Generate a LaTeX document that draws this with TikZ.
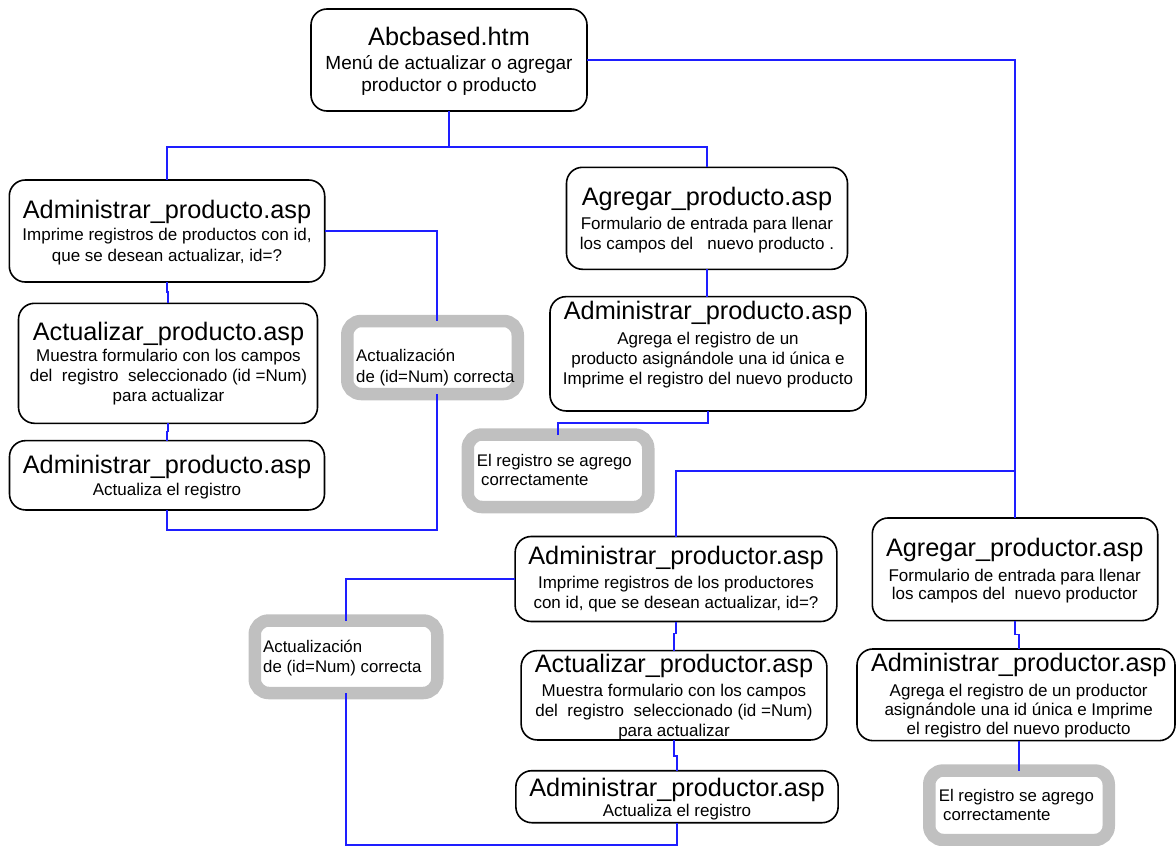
\documentclass[tikz,border=0pt]{standalone}
\usepackage{fontspec}
\setmainfont{Liberation Sans}
\definecolor{linkblue}{RGB}{30,30,255}
\definecolor{okgray}{RGB}{192,192,192}
\begin{document}
\begin{tikzpicture}[x=1pt,y=-1pt,
  box/.style={draw=black, line width=1.6pt, rounded corners=16pt, fill=white, inner sep=0pt, outer sep=0pt},
  okbox/.style={draw=okgray, line width=12.5pt, rounded corners=14pt, fill=white, inner sep=0pt, outer sep=0pt},
  link/.style={draw=linkblue, line width=1.5pt},
  ttl/.style={anchor=base, inner sep=0pt, font=\fontsize{25.3}{30}\selectfont},
  sub/.style={anchor=base, inner sep=0pt, font=\fontsize{17}{20}\selectfont},
  menu/.style={anchor=base, inner sep=0pt, font=\fontsize{19}{23}\selectfont},
  note/.style={anchor=base west, inner sep=0pt, font=\fontsize{16.8}{20}\selectfont},
]
\useasboundingbox (0,0) rectangle (1176,846);

% page boxes
\node[box, minimum width=276pt,   minimum height=102pt]   (A) at (449,60) {};
\node[box, minimum width=315.4pt, minimum height=102pt]   (B) at (167,231) {};
\node[box, minimum width=281pt,   minimum height=102pt]   (C) at (707,218.3) {};
\node[box, minimum width=299pt,   minimum height=120pt]   (E) at (168,363.3) {};
\node[box, minimum width=315pt,   minimum height=69.3pt]  (F) at (167,475.3) {};
\node[box, minimum width=316pt,   minimum height=114.3pt] (G) at (708,353.8) {};
\node[box, minimum width=321.7pt, minimum height=85pt]    (I) at (676,579) {};
\node[box, minimum width=285.4pt, minimum height=102.7pt] (J) at (1015,569.3) {};
\node[box, minimum width=305.7pt, minimum height=89.3pt]  (L) at (674,695.3) {};
\node[box, minimum width=322.3pt, minimum height=52pt]    (M) at (677,796.7) {};
\node[box, minimum width=318pt,   minimum height=91.7pt]  (N) at (1016,694.8) {};

% result boxes
\node[okbox, minimum width=170.5pt, minimum height=73pt]   (D) at (432.5,357.5) {};
\node[okbox, minimum width=180.5pt, minimum height=72.5pt] (H) at (558,470.75) {};
\node[okbox, minimum width=182.5pt, minimum height=72.5pt] (K) at (346,656.75) {};
\node[okbox, minimum width=179.5pt, minimum height=69.5pt] (O) at (1019,805.25) {};

% texts
\node[ttl]  (A1) at (449,45)   {Abcbased.htm};
\node[menu] (A2) at (449,69)   {Menú de actualizar o agregar};
\node[menu] (A3) at (449,91.7) {productor o producto};

\node[ttl] (B1) at (167,218.3) {Administrar\_producto.asp};
\node[sub] (B2) at (167,240.7) {Imprime registros de productos con id,};
\node[sub] (B3) at (167,261)   {que se desean actualizar, id=?};

\node[ttl] (C1) at (707,205)   {Agregar\_producto.asp};
\node[sub] (C2) at (707,229.3) {Formulario de entrada para llenar};
\node[sub] (C3) at (707,249.3) {los campos del\ \ \ nuevo producto .};

\node[ttl] (E1) at (168.5,340)   {Actualizar\_producto.asp};
\node[sub] (E2) at (168.5,361.7) {Muestra formulario con los campos};
\node[sub] (E3) at (168.5,381.7) {del\ \ registro\ \ seleccionado (id =Num)};
\node[sub] (E4) at (168.5,401.3) {para actualizar};

\node[ttl] (F1) at (167,473.3) {Administrar\_producto.asp};
\node[sub] (F2) at (167,495)   {Actualiza el registro};

\node[ttl] (G1) at (708,319)   {Administrar\_producto.asp};
\node[sub] (G2) at (708,344.3) {Agrega el registro de un};
\node[sub] (G3) at (708,364.3) {producto asignándole una id única e};
\node[sub] (G4) at (708,384.3) {Imprime el registro del nuevo producto};

\node[ttl] (I1) at (676,564.3) {Administrar\_productor.asp};
\node[sub] (I2) at (676,588.3) {Imprime registros de los productores};
\node[sub] (I3) at (676,608.3) {con id, que se desean actualizar, id=?};

\node[ttl] (J1) at (1014.7,556.7) {Agregar\_productor.asp};
\node[sub] (J2) at (1014.7,581)   {Formulario de entrada para llenar};
\node[sub] (J3) at (1014.7,599.3) {los campos del\ \ nuevo productor};

\node[ttl] (L1) at (674,672.3) {Actualizar\_productor.asp};
\node[sub] (L2) at (674,696.7) {Muestra formulario con los campos};
\node[sub] (L3) at (674,716.7) {del\ \ registro\ \ seleccionado (id =Num)};
\node[sub] (L4) at (674,736.7) {para actualizar};

\node[ttl] (M1) at (677,796.7) {Administrar\_productor.asp};
\node[sub] (M2) at (677,816)   {Actualiza el registro};

\node[ttl] (N1) at (1018.7,671.7) {Administrar\_productor.asp};
\node[sub] (N2) at (1018.7,696.7) {Agrega el registro de un productor};
\node[sub] (N3) at (1018.7,715)   {asignándole una id única e Imprime};
\node[sub] (N4) at (1018.7,734)   {el registro del nuevo producto};

\node[note] (D1) at (356,361) {Actualización};
\node[note] (D2) at (356,382) {de (id=Num) correcta};
\node[note] (H1) at (476.6,466.5) {El registro se agrego};
\node[note] (H2) at (481,485)     {correctamente};
\node[note] (K1) at (263,652) {Actualización};
\node[note] (K2) at (263,672) {de (id=Num) correcta};
\node[note] (O1) at (938.7,801.7) {El registro se agrego};
\node[note] (O2) at (943,820.7)   {correctamente};

% connectors
\coordinate (j1) at (449,147);
\coordinate (j2) at (1015,471);
\draw[link] (A.south) -- (j1);
\draw[link] (j1) -| (B.north);
\draw[link] (j1) -| (C.north);
\draw[link] (A.east) -| (J.north);
\draw[link] (j2) -| (I.north);

\draw[link] (B.east) -| ([xshift=4.5pt]D.north);
\draw[link] ([xshift=4.5pt]D.south) -- ++(0,136) -| (F.south);
\draw[link] (B.south) -- ++(0,10) -| (E.north);
\draw[link] (E.south) -- ++(0,8) -| (F.north);

\draw[link] (C.south) -- (C.south |- G.north);
\draw[link] (G.south) -- ++(0,12) -| (H.north);

\draw[link] (I.west) -| (K.north);
\draw[link] (K.south) -- ++(0,152) -| (M.south);
\draw[link] (I.south) -- ++(0,12) -| (L.north);
\draw[link] (L.south) -- ++(0,16) -| (M.north);

\draw[link] (J.south) -- ++(0,14) -| ([xshift=3pt]N.north);
\draw[link] (N.south -| O.north) -- (O.north);
\end{tikzpicture}
\end{document}
